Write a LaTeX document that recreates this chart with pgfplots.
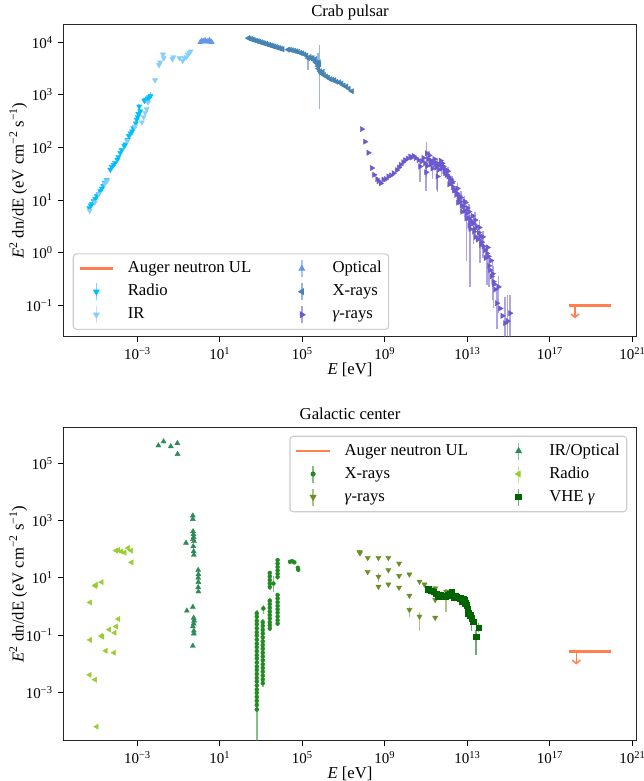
\documentclass[border=0pt]{standalone}
\usepackage{fontspec}
\setmainfont{Liberation Serif}
\usepackage{pgfplots}
\pgfplotsset{compat=1.18}
\usetikzlibrary{arrows.meta}

\definecolor{cradio}{HTML}{00BFFF}
\definecolor{cir}{HTML}{87CEFA}
\definecolor{copt}{HTML}{6495ED}
\definecolor{cxray}{HTML}{4682B4}
\definecolor{cgam}{HTML}{6A5ACD}
\definecolor{cauger}{HTML}{FF7F50}
\definecolor{gxray}{HTML}{228B22}
\definecolor{ggam}{HTML}{6B8E23}
\definecolor{gir}{HTML}{2E8B57}
\definecolor{gradio}{HTML}{9ACD32}
\definecolor{gvhe}{HTML}{006400}

\newcommand{\tl}[1]{10\textsuperscript{#1}}

% all data are log10(E/eV) and log10(E^2 dn/dE), axes are linear in decades
\pgfplotsset{
  sed/.style={
    scale only axis, width=573.4pt,
    xmin=-6.59, xmax=21.21,
    xtick={-3,1,5,9,13,17,21},
    xticklabels={\tl{−3},\tl{1},\tl{5},\tl{9},\tl{13},\tl{17},\tl{21}},
    tick align=outside, xtick pos=bottom, ytick pos=left,
    major tick length=4.9pt,
    every tick/.style={black, line width=1.1pt},
    every tick label/.append style={font=\fontsize{15}{18}\selectfont},
    axis line style={line width=1.1pt, black!85},
    every axis x label/.style={at={(axis description cs:0.5,0)},anchor=center,yshift=-33.3pt},
    every axis y label/.style={at={(axis description cs:-0.0785,0.5)},rotate=90,anchor=center},
    every axis title/.style={at={(axis description cs:0.5,1)},anchor=base,yshift=8.3pt},
    xlabel={\textit{E} [eV]},
    ylabel={\textit{E}\textsuperscript{2} dn/dE (eV cm\textsuperscript{−2} s\textsuperscript{−1})},
    legend columns=2, legend cell align=left,
    legend style={draw=black!20, line width=1.1pt, rounded corners=3.3pt, fill=white,
      inner xsep=5pt, inner ysep=5pt, row sep=3.5pt,
      nodes={inner sep=2pt, text height=12pt, text depth=3.5pt},
      /tikz/every odd column/.append style={column sep=11.4pt},
      /tikz/every even column/.append style={column sep=31.4pt}},
  },
  eb/.style={/pgfplots/error bars/y dir=both, /pgfplots/error bars/y explicit,
    /pgfplots/error bars/error mark=none,
    /pgfplots/error bars/error bar style={line width=1.5pt, opacity=0.55}},
  tri/.style={only marks, forget plot, color=#1, mark=triangle*, mark size=3pt,
    mark options={line width=0.3pt}},
  ebleg/.style={legend image code/.code={
    \path (0pt,0pt) (33.4pt,0pt);
    \draw[line width=1.5pt, opacity=0.55] (16.7pt,-8.5pt) -- (16.7pt,8.5pt);
    \draw plot coordinates {(16.7pt,0pt)};}},
  lineleg/.style={legend image code/.code={\draw (0pt,0pt) -- (33.4pt,0pt);}},
}

\begin{document}
\fontsize{16.7}{20}\selectfont
\begin{tikzpicture}
\path[use as bounding box] (0pt,0pt) rectangle (644pt,-781pt);

% ---------------- Crab pulsar ----------------
\begin{axis}[sed, at={(63.3pt,-24.7pt)}, anchor=north west, height=312pt,
  ymin=-1.597, ymax=4.335,
  ytick={-1,0,1,2,3,4},
  yticklabels={\tl{−1},\tl{0},\tl{1},\tl{2},\tl{3},\tl{4}},
  title={Crab pulsar},
  legend style={at={(axis description cs:0.0164,0.0215)}, anchor=south west},
]
% Radio
\addplot[tri=cradio, mark options={rotate=180}, eb] table[x=x,y=y,y error plus=ep,y error minus=em] {
x y ep em
-5.33 0.85 0 0
-5.26 0.90 0 0
-5.20 0.93 0 0
-5.12 0.98 0 0
-5.04 1.03 0 0
-4.96 1.08 0 0
-4.88 1.12 0 0
-4.80 1.17 0 0
-4.72 1.22 0 0
-4.65 1.27 0 0
-4.57 1.33 0 0
-4.49 1.38 0 0
-4.31 1.58 0 0
-4.24 1.63 0 0
-4.15 1.67 0 0
-4.08 1.71 0 0
-3.97 1.77 0 0
-3.92 1.82 0 0
-3.83 1.90 0 0
-3.76 1.95 0 0
-3.63 2.03 0 0
-3.58 2.06 0 0
-3.46 2.15 0 0
-3.41 2.22 0 0
-3.33 2.27 0 0
-3.25 2.31 0.05 0.08
-3.19 2.37 0 0
-3.08 2.46 0.04 0.06
-3.03 2.53 0.05 0.16
-2.98 2.58 0.04 0.06
-2.95 2.64 0.05 0.05
-2.91 2.78 0.05 0.08
-2.86 2.69 0.05 0.10
-2.66 2.89 0.06 0.05
-2.58 2.91 0.06 0.06
-2.50 2.92 0.07 0.05
-2.42 2.96 0.06 0.12
-2.36 2.98 0.08 0.06
};
% IR
\addplot[tri=cir, mark options={rotate=180}] table {
x y
-5.31 0.80
-5.06 0.96
-4.86 1.12
-4.58 1.31
-4.47 1.36
-3.50 2.13
-3.12 2.40
-2.78 2.48
-2.70 2.58
-2.62 2.66
-2.55 2.73
-2.48 2.86
-2.14 3.28
-1.95 3.57
-1.90 3.62
-1.76 3.77
-1.72 3.70
-1.30 3.68
-1.26 3.72
-0.96 3.70
-0.80 3.65
-0.72 3.70
-0.62 3.72
-0.55 3.77
-0.48 3.80
-0.42 3.83
};
% Optical
\addplot[tri=copt] table {
x y
0.05 4.00
0.12 4.03
0.20 4.02
0.28 4.04
0.35 4.01
0.42 4.02
0.50 4.04
0.58 4.01
0.61 4.00
};
% X-rays
\addplot[tri=cxray, mark options={rotate=90}, eb] table[x=x,y=y,y error plus=ep,y error minus=em] {
x y ep em
2.38 4.08 0 0
2.45 4.07 0 0
2.52 4.06 0 0
2.60 4.05 0 0
2.68 4.04 0 0
2.76 4.03 0 0
2.84 4.02 0 0
2.92 4.01 0 0
3.00 4.00 0 0
3.08 3.99 0 0
3.16 3.98 0 0
3.24 3.97 0 0
3.32 3.96 0 0
3.40 3.95 0 0
3.48 3.94 0 0
3.56 3.93 0 0
3.64 3.92 0 0
3.72 3.91 0 0
3.80 3.90 0 0
3.88 3.89 0 0
3.96 3.88 0 0
4.04 3.87 0 0
4.30 3.86 0 0
4.40 3.86 0 0
4.50 3.85 0 0
4.60 3.84 0 0
4.70 3.83 0 0
4.80 3.82 0 0
4.90 3.80 0 0
5.00 3.79 0 0
5.10 3.77 0 0
5.20 3.75 0 0
5.28 3.70 0.03 0.22
5.35 3.72 0 0
5.42 3.70 0 0
5.50 3.70 0 0
5.56 3.66 0 0
5.62 3.68 0 0
5.66 3.62 0 0
5.70 3.60 0 0
5.75 3.55 0.25 0.10
5.78 3.50 0 0
5.80 3.62 0 0
5.83 3.58 0.37 0.85
5.86 3.45 0 0
5.90 3.42 0 0
5.95 3.40 0 0
6.00 3.44 0 0
6.05 3.38 0 0
6.15 3.35 0 0
6.25 3.33 0 0
6.35 3.30 0 0
6.45 3.29 0 0
6.55 3.28 0 0
6.65 3.25 0 0
6.78 3.24 0 0
6.90 3.22 0 0
7.00 3.18 0 0
7.12 3.16 0 0
7.25 3.12 0 0
7.40 3.07 0 0
};
% gamma-rays
\addplot[tri=cgam, mark options={rotate=-90}, eb] table[x=x,y=y,y error plus=ep,y error minus=em] {
x y ep em
7.88 2.35 0 0
8.04 2.11 0 0
8.20 1.90 0 0
8.37 1.61 0 0
8.48 1.48 0 0
8.62 1.40 0 0
8.69 1.36 0 0
8.80 1.32 0 0
8.93 1.39 0 0
9.05 1.40 0 0
9.17 1.45 0 0
9.30 1.47 0 0
9.42 1.51 0 0
9.58 1.57 0 0
9.68 1.62 0 0
9.77 1.67 0 0
9.88 1.72 0 0
9.98 1.76 0 0
10.10 1.79 0 0
10.22 1.83 0 0
10.30 1.81 0 0
10.39 1.84 0 0
10.50 1.80 0 0
10.63 1.76 0 0
10.71 1.64 0.10 0.30
10.80 1.74 0 0
10.87 1.80 0 0
10.95 1.70 0 0
11.00 1.53 0.15 0.35
11.03 1.89 0.22 0.45
11.05 1.65 0 0
11.10 1.78 0 0
11.15 1.85 0.08 0.10
11.19 1.76 0 0
11.22 1.68 0 0
11.27 1.72 0 0
11.30 1.60 0.10 0.20
11.35 1.73 0 0
11.40 1.78 0 0
11.42 1.68 0 0
11.48 1.62 0 0
11.52 1.70 0.10 0.50
11.55 1.45 0.10 0.30
11.60 1.66 0 0
11.62 1.58 0 0
11.68 1.67 0 0
11.70 1.75 0 0
11.75 1.60 0.10 0.15
11.78 1.70 0 0
11.84 1.64 0 0
11.88 1.55 0 0
11.92 1.51 0 0
11.95 1.58 0 0
12.00 1.48 0 0
12.05 1.55 0.08 0.15
12.08 1.45 0 0
12.12 1.30 0 0
12.15 1.38 0 0
12.20 1.40 0 0
12.24 1.32 0 0
12.28 1.35 0.10 0.20
12.30 1.25 0 0
12.35 1.18 0 0
12.41 1.19 0 0
12.45 1.10 0 0
12.49 1.13 0 0
12.52 1.22 0.10 0.25
12.55 0.95 0 0
12.57 1.02 0 0
12.60 1.08 0 0
12.65 0.97 0 0
12.68 1.05 0.12 0.30
12.72 0.90 0 0
12.75 0.78 0 0
12.81 0.88 0 0
12.85 0.98 0.10 0.30
12.88 0.80 0 0
12.90 0.95 0 0
12.95 0.65 0 0
12.97 0.75 0.10 0.90
13.00 0.85 0 0
13.05 0.66 0 0
13.08 0.78 0.15 0.35
13.10 0.52 0 0
13.13 0.62 0.10 1.27
13.15 0.45 0 0
13.20 0.58 0 0
13.25 0.70 0 0
13.29 0.56 0.15 0.40
13.32 0.40 0 0
13.35 0.45 0 0
13.38 0.62 0.15 0.30
13.40 0.30 0 0
13.46 0.50 0 0
13.50 0.25 0 0
13.55 0.38 0 0
13.58 0.48 0.15 0.35
13.62 0.31 0.10 0.50
13.66 0.15 0 0
13.70 0.20 0 0
13.75 0.30 0.12 0.40
13.78 0.12 0 0
13.85 0.05 0 0
13.88 -0.10 0 0
13.94 -0.01 0.15 0.60
13.98 0.10 0 0
14.02 -0.07 0 0
14.05 -0.25 0.20 0.40
14.10 -0.33 0 0
14.15 -0.15 0 0
14.18 -0.45 0 0
14.22 -0.40 0.25 0.50
14.26 -0.55 0.30 0.50
14.30 -0.60 0 0
14.35 -0.70 0 0
14.43 -0.96 0.35 0.50
14.51 -0.65 0.20 0.50
14.59 -1.06 0 0
14.70 -1.20 0 0
14.83 -1.34 0.50 0.60
14.95 -1.30 0.50 0.50
15.07 -1.15 0.35 0.80
};
% Auger neutron upper limit
\addplot[cauger, line width=2.8pt, forget plot] coordinates {(17.93,-1.0) (19.97,-1.0)};
\addplot[cauger, line width=1.5pt, forget plot, -{Straight Barb[length=3.5pt,width=8pt]}] coordinates {(18.22,-1.0) (18.22,-1.25)};

\addlegendimage{cauger, line width=2.8pt, lineleg}
\addlegendentry{Auger neutron UL}
\addlegendimage{copt, mark=triangle*, mark size=3pt, ebleg}
\addlegendentry{Optical}
\addlegendimage{cradio, mark=triangle*, mark size=3pt, mark options={rotate=180}, ebleg}
\addlegendentry{Radio}
\addlegendimage{cxray, mark=triangle*, mark size=3pt, mark options={rotate=90}, ebleg}
\addlegendentry{X-rays}
\addlegendimage{cir, mark=triangle*, mark size=3pt, mark options={rotate=180}, ebleg}
\addlegendentry{IR}
\addlegendimage{cgam, mark=triangle*, mark size=3pt, mark options={rotate=-90}, ebleg}
\addlegendentry{\textit{γ}-rays}
\end{axis}

% ---------------- Galactic center ----------------
\begin{axis}[sed, at={(63.3pt,-427.3pt)}, anchor=north west, height=313.4pt,
  ymin=-4.69, ymax=6.257,
  ytick={-3,-1,1,3,5},
  yticklabels={\tl{−3},\tl{−1},\tl{1},\tl{3},\tl{5}},
  title={Galactic center},
  legend style={at={(axis description cs:0.9836,0.9732)}, anchor=north east},
]
% Radio
\addplot[tri=gradio, mark options={rotate=90}] table {
x y
-5.29 0.14
-5.05 0.72
-5.00 0.76
-4.73 0.85
-4.03 1.95
-3.92 1.97
-3.78 1.92
-3.62 1.88
-3.45 2.04
-3.30 1.95
-3.28 1.54
-3.92 -0.44
-4.03 -0.70
-4.36 -0.81
-4.10 -0.92
-4.69 -1.06
-4.75 -1.03
-5.29 -1.17
-4.53 -1.55
-4.13 -1.62
-5.31 -2.39
-5.05 -2.56
-4.97 -4.20
};
% IR/Optical
\addplot[tri=gir] table {
x y
-1.98 5.62
-1.73 5.76
-1.38 5.59
-1.06 5.70
-1.05 5.32
-0.31 3.17
-0.31 3.05
-0.30 2.62
-0.28 2.52
-0.27 2.42
-0.30 2.35
-0.25 2.28
-0.64 2.22
-0.29 2.10
-0.27 1.92
-0.26 1.80
-0.05 1.27
-0.04 1.12
-0.05 1.00
-0.04 0.85
-0.05 0.67
-0.04 0.52
-0.31 -0.02
-0.60 -0.15
-0.27 -0.40
-0.25 -0.50
-0.27 -0.60
-0.31 -0.70
-0.26 -0.85
-0.26 -0.95
-0.31 -1.38
};
% X-rays
\addplot[only marks, forget plot, color=gxray, mark=*, mark size=2pt, eb] table[x=x,y=y,y error plus=ep,y error minus=em] {
x y ep em
2.79 -0.24 0.12 0.15
2.79 -0.36 0.12 0.15
2.79 -0.50 0.12 0.15
2.79 -0.62 0.12 0.15
2.79 -0.76 0.12 0.15
2.79 -0.90 0.12 0.15
2.79 -1.02 0.12 0.15
2.79 -1.16 0.12 0.15
2.79 -1.30 0.12 0.15
2.79 -1.42 0.12 0.15
2.79 -1.56 0.12 0.15
2.79 -1.70 0.12 0.15
2.79 -1.82 0.12 0.15
2.79 -1.96 0.12 0.15
2.79 -2.10 0.12 0.15
2.79 -2.22 0.12 0.15
2.79 -2.36 0.12 0.15
2.79 -2.50 0.12 0.15
2.79 -2.62 0.12 0.15
2.79 -2.76 0.12 0.15
2.79 -2.90 0.12 0.15
2.79 -3.02 0.12 0.15
2.79 -3.16 0.12 0.15
2.79 -3.30 0.12 0.15
2.79 -3.44 0.12 0.15
2.79 -3.60 0.12 1.30
3.08 -0.55 0.12 0.15
3.08 -0.68 0.12 0.15
3.08 -0.82 0.12 0.15
3.08 -0.95 0.12 0.15
3.08 -1.08 0.12 0.15
3.08 -1.22 0.12 0.15
3.08 -1.35 0.12 0.15
3.08 -1.48 0.12 0.15
3.08 -1.62 0.12 0.15
3.08 -1.75 0.12 0.15
3.08 -1.88 0.12 0.15
3.08 -2.02 0.12 0.15
3.08 -2.15 0.12 0.15
3.08 -2.28 0.12 0.15
3.08 -2.42 0.12 0.15
3.08 -2.55 0.12 0.15
3.08 -2.68 0.12 0.15
3.11 -0.07 0.12 0.20
3.42 1.17 0.08 0.10
3.42 1.05 0.08 0.10
3.42 0.92 0.08 0.10
3.42 0.80 0.08 0.10
3.42 0.68 0.08 0.10
3.42 0.20 0.08 0.10
3.42 0.08 0.08 0.10
3.42 -0.05 0.08 0.10
3.42 -0.18 0.08 0.10
3.42 -0.30 0.08 0.10
3.42 -0.42 0.08 0.10
3.42 -0.55 0.08 0.10
3.42 -0.66 0.08 0.10
3.42 -0.77 0.08 0.10
3.60 0.80 0.25 0.30
3.80 1.62 0.08 0.10
3.80 1.50 0.08 0.10
3.80 1.38 0.08 0.10
3.80 1.26 0.08 0.10
3.80 1.14 0.08 0.10
3.80 1.03 0.08 0.10
3.80 0.40 0.08 0.10
3.80 0.28 0.08 0.10
3.80 0.15 0.08 0.10
3.80 0.02 0.08 0.10
3.80 -0.10 0.08 0.10
3.80 -0.22 0.08 0.10
3.80 -0.35 0.08 0.10
3.80 -0.48 0.08 0.10
3.80 -0.60 0.08 0.10
4.40 1.56 0.03 0.03
4.50 1.58 0.03 0.03
4.61 1.54 0.03 0.03
4.78 1.35 0.03 0.03
4.80 1.28 0.03 0.03
};
% gamma-rays
\addplot[tri=ggam, mark options={rotate=180}, eb] table[x=x,y=y,y error plus=ep,y error minus=em] {
x y ep em
7.77 1.91 0.05 0.10
7.79 1.86 0 0
8.17 1.70 0 0
8.69 1.70 0 0
9.17 1.70 0 0
9.69 1.50 0 0
8.17 1.21 0 0
8.69 1.04 0.12 0.20
9.17 1.27 0 0
9.69 1.07 0 0
10.19 1.12 0 0
8.69 0.69 0 0
9.17 0.77 0 0
9.69 0.66 0 0
10.68 0.87 0 0
10.92 0.77 0 0
11.20 0.55 0 0
11.44 0.63 0.10 0.10
10.19 0.38 0 0
11.44 0.23 0 0
10.19 -0.12 0.10 0.25
10.68 -0.35 0.15 0.50
11.44 -0.39 0 0
11.97 0.52 0.10 0.70
};
% VHE gamma
\addplot[only marks, forget plot, color=gvhe, mark=square*, mark size=2.8pt, eb] table[x=x,y=y,y error plus=ep,y error minus=em] {
x y ep em
11.11 0.61 0 0
11.25 0.55 0 0
11.36 0.52 0 0
11.50 0.45 0 0
11.60 0.34 0 0
11.70 0.40 0 0
11.76 0.38 0 0
11.85 0.36 0 0
11.92 0.34 0 0
12.00 0.38 0 0
12.08 0.40 0.05 0.05
12.16 0.45 0 0
12.24 0.52 0.05 0.05
12.33 0.31 0 0
12.41 0.36 0 0
12.49 0.34 0 0
12.57 0.30 0 0
12.65 0.28 0 0
12.73 0.17 0 0
12.80 0.25 0 0
12.84 0.22 0 0
12.90 0.12 0 0
12.97 0.05 0.05 0.10
13.02 -0.10 0 0
13.05 -0.24 0.08 0.10
13.13 -0.30 0 0
13.21 -0.41 0.10 0.45
13.29 -0.53 0 0
13.42 -1.06 0.25 0.65
13.54 -0.74 0.15 0.15
};
% Auger neutron upper limit
\addplot[cauger, line width=2.8pt, forget plot] coordinates {(17.93,-1.58) (19.97,-1.58)};
\addplot[cauger, line width=1.5pt, forget plot, -{Straight Barb[length=3.5pt,width=8pt]}] coordinates {(18.28,-1.58) (18.28,-2.03)};

\addlegendimage{cauger, line width=2.8pt, lineleg}
\addlegendentry{Auger neutron UL}
\addlegendimage{gir, mark=triangle*, mark size=3pt, ebleg}
\addlegendentry{IR/Optical}
\addlegendimage{gxray, mark=*, mark size=2pt, ebleg}
\addlegendentry{X-rays}
\addlegendimage{gradio, mark=triangle*, mark size=3pt, mark options={rotate=90}, ebleg}
\addlegendentry{Radio}
\addlegendimage{ggam, mark=triangle*, mark size=3pt, mark options={rotate=180}, ebleg}
\addlegendentry{\textit{γ}-rays}
\addlegendimage{gvhe, mark=square*, mark size=2.8pt, ebleg}
\addlegendentry{VHE \textit{γ}}
\end{axis}
\end{tikzpicture}
\end{document}
